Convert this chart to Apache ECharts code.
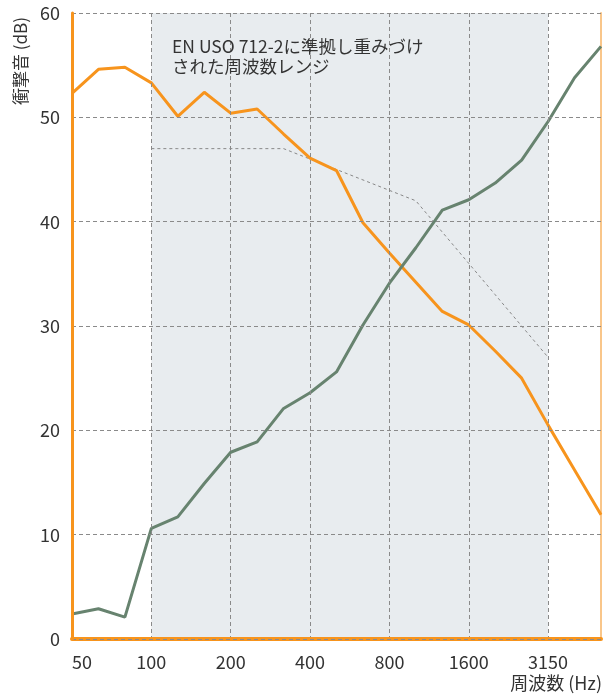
<!DOCTYPE html>
<html>
<head>
<meta charset="utf-8">
<script src="https://cdn.jsdelivr.net/npm/echarts@6/dist/echarts.min.js"></script>
<style>
  html, body { margin: 0; padding: 0; background: #fff; }
  #chart { width: 605px; height: 695px; }
</style>
</head>
<body>
<div id="chart"></div>
<script>
// 1/3オクターブ帯域
var freqs = ["50", "63", "80", "100", "125", "160", "200", "250", "315", "400", "500",
  "630", "800", "1000", "1250", "1600", "2000", "2500", "3150", "4000", "5000"];
var shownLabels = ["50", "100", "200", "400", "800", "1600", "3150"];
var gridLabels = ["100", "200", "400", "800", "1600", "3150"];

var orangeVals = [52.3, 54.6, 54.8, 53.3, 50.1, 52.4, 50.4, 50.8, 48.4, 46.1, 44.9,
  39.9, 37.0, 34.2, 31.4, 30.1, 27.6, 25.0, 20.5, 16.2, 11.9];
var greenVals = [2.4, 2.9, 2.1, 10.6, 11.7, 14.9, 17.9, 18.9, 22.1, 23.6, 25.6,
  30.1, 34.1, 37.5, 41.1, 42.1, 43.7, 45.9, 49.6, 53.8, 56.8];
// 基準曲線 (100-3150Hz)
var refVals = [null, null, null, 47, 47, 47, 47, 47, 47, 46, 45,
  44, 43, 42, 39, 36, 33, 30, 27, null, null];

var yTicks = { min: 0, max: 60, step: 10 };

var chart = echarts.init(document.getElementById("chart"));
var fnt = "'Noto Sans CJK JP', 'Noto Sans', sans-serif";
var gridLine = { color: "#8a8a8a", type: [4, 3], width: 1 };

chart.setOption({
  animation: false,
  grid: { left: 72, right: 4, top: 13, bottom: 56 },
  xAxis: [
    {
      type: "category",
      data: freqs,
      boundaryGap: false,
      position: "bottom",
      z: 5,
      axisLine: { lineStyle: { color: "#f7941d", width: 4 } },
      axisTick: { show: false },
      axisLabel: {
        color: "#333",
        fontSize: 18,
        fontFamily: fnt,
        margin: 14,
        alignMinLabel: "left",
        interval: function (i, v) { return shownLabels.indexOf(v) >= 0; }
      },
      splitLine: {
        show: true,
        interval: function (i, v) { return gridLabels.indexOf(v) >= 0; },
        lineStyle: gridLine
      }
    },
    {
      type: "category",
      data: freqs,
      boundaryGap: false,
      position: "top",
      axisLine: { lineStyle: { color: "#f9c68a", width: 2 } },
      axisTick: { show: false },
      axisLabel: { show: false },
      splitLine: { show: false }
    }
  ],
  yAxis: [
    {
      type: "value",
      min: yTicks.min,
      max: yTicks.max,
      interval: yTicks.step,
      position: "left",
      z: 6,
      axisLine: { show: true, onZero: false, lineStyle: { color: "#f7941d", width: 3 } },
      axisTick: { show: false },
      axisLabel: { color: "#333", fontSize: 18, fontFamily: fnt, margin: 12 },
      splitLine: { lineStyle: gridLine }
    },
    {
      type: "value",
      min: yTicks.min,
      max: yTicks.max,
      interval: yTicks.step,
      position: "right",
      axisLine: { show: true, onZero: false, lineStyle: { color: "#f9c68a", width: 2 } },
      axisTick: { show: false },
      axisLabel: { show: false },
      splitLine: { show: false }
    }
  ],
  series: [
    {
      type: "line",
      data: refVals,
      symbol: "none",
      z: 2,
      lineStyle: { color: "#888", width: 1, type: [3, 3] },
      markArea: {
        silent: true,
        itemStyle: { color: "#e8ecef" },
        data: [[{ xAxis: "100" }, { xAxis: "3150" }]]
      }
    },
    {
      type: "line",
      data: orangeVals,
      symbol: "none",
      z: 3,
      lineStyle: { color: "#f7941d", width: 3 }
    },
    {
      type: "line",
      data: greenVals,
      symbol: "none",
      z: 3,
      lineStyle: { color: "#67836f", width: 3 }
    }
  ],
  graphic: [
    {
      type: "text",
      x: 21, y: 105,
      rotation: Math.PI / 2,
      style: {
        text: "衝撃音 (dB)",
        fill: "#333",
        font: "17px " + fnt,
        textAlign: "left",
        textVerticalAlign: "middle"
      }
    },
    {
      type: "text",
      right: 3, top: 674,
      style: {
        text: "周波数 (Hz)",
        fill: "#333",
        font: "18px " + fnt
      }
    },
    {
      type: "text",
      x: 172, y: 36,
      z: 10,
      style: {
        text: "EN USO 712-2に準拠し重みづけ\nされた周波数レンジ",
        fill: "#333",
        font: "17.5px " + fnt,
        lineHeight: 20
      }
    }
  ]
});
</script>
</body>
</html>
